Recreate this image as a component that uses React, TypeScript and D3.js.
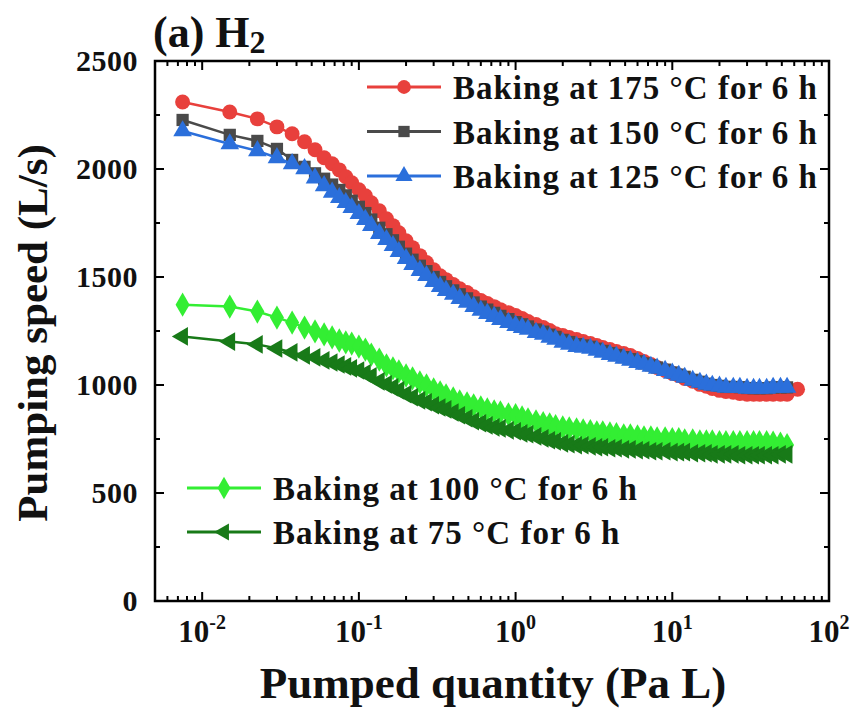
import React from "react";
import * as d3 from "d3";

// pumped quantity (Pa L), shared sampling grid
const quantity = [
  0.0075, 0.015, 0.0225, 0.03, 0.0375, 0.045, 0.0525, 0.06, 0.0675, 0.075, 0.0825, 0.09,
  0.1, 0.11, 0.12, 0.135, 0.15, 0.165, 0.18, 0.2, 0.22, 0.245, 0.27, 0.3, 0.33, 0.36, 0.4, 0.44, 0.49, 0.54, 0.6, 0.66, 0.73, 0.8, 0.9,
  1.0, 1.1, 1.2, 1.35, 1.5, 1.65, 1.8, 2.0, 2.2, 2.45, 2.7, 3.0, 3.3, 3.6, 4.0, 4.4, 4.9, 5.4, 6.0, 6.6, 7.3, 8.0, 9.0,
  10, 11, 12, 13.5, 15, 16.5, 18, 20, 22, 24.5, 27, 30, 33, 36, 40, 44, 49, 54,
  63,
];

// pumping speed (L/s)
const speed175 = [
  2310, 2264, 2232, 2195, 2163, 2126, 2089, 2052, 2024, 1996, 1964, 1936,
  1904, 1876, 1844, 1807, 1770, 1738, 1705, 1668, 1636, 1599, 1567, 1534, 1506, 1488, 1465, 1446, 1428, 1409, 1391, 1377, 1363, 1349, 1335,
  1322, 1308, 1294, 1280, 1266, 1252, 1238, 1229, 1220, 1211, 1201, 1192, 1183, 1174, 1164, 1155, 1146, 1137, 1123, 1109, 1095, 1081, 1067,
  1054, 1044, 1030, 1017, 1003, 994, 984, 975, 970, 966, 961, 957, 957, 957, 957, 957, 957, 957,
  980,
];
const speed150 = [
  2227, 2158, 2130, 2093, 2042, 2010, 1980, 1955, 1928, 1903, 1878, 1853,
  1825, 1796, 1766, 1728, 1698, 1670, 1640, 1608, 1580, 1552, 1527, 1500, 1477, 1457, 1438, 1420, 1401, 1382, 1363, 1349, 1334, 1320, 1305,
  1291, 1281, 1271, 1257, 1247, 1233, 1223, 1209, 1199, 1189, 1183, 1177, 1168, 1158, 1148, 1139, 1129, 1120, 1110, 1100, 1091, 1081, 1071,
  1058, 1048, 1038, 1024, 1015, 1006, 1000, 996, 991, 991, 990, 986, 985, 985, 985, 989, 989, 989,
];
const speed125 = [
  2176, 2116, 2084, 2052, 2024, 2001, 1958, 1922, 1892, 1867, 1844, 1821,
  1793, 1766, 1738, 1701, 1673, 1645, 1617, 1585, 1557, 1530, 1506, 1479, 1456, 1437, 1419, 1400, 1382, 1363, 1345, 1331, 1317, 1303, 1289,
  1275, 1266, 1257, 1243, 1234, 1220, 1211, 1197, 1188, 1178, 1174, 1169, 1160, 1151, 1141, 1132, 1123, 1114, 1104, 1095, 1086, 1077, 1067,
  1054, 1044, 1035, 1021, 1012, 1003, 998, 994, 989, 989, 989, 984, 984, 984, 984, 989, 989, 989,
];
const speed100 = [
  1372, 1363, 1340, 1312, 1289, 1266, 1248, 1234, 1220, 1206, 1197, 1192,
  1178, 1164, 1141, 1118, 1091, 1077, 1063, 1044, 1031, 1012, 998, 980, 966, 952, 938, 924, 915, 906, 896, 887, 878, 873, 864,
  860, 850, 841, 832, 823, 818, 809, 804, 799, 795, 790, 786, 781, 781, 776, 772, 767, 767, 762, 758, 758, 753, 753,
  749, 749, 744, 744, 739, 739, 739, 735, 735, 735, 735, 735, 735, 735, 735, 733, 728, 722,
];
const speed75 = [
  1225, 1201, 1188, 1169, 1151, 1137, 1128, 1114, 1104, 1095, 1086, 1077,
  1067, 1054, 1040, 1017, 1003, 989, 975, 957, 943, 929, 920, 906, 896, 887, 873, 860, 846, 832, 823, 813, 804, 799, 790,
  786, 776, 772, 762, 753, 744, 739, 730, 726, 721, 721, 716, 712, 712, 707, 707, 702, 702, 698, 698, 693, 693, 693,
  689, 689, 689, 684, 684, 684, 679, 679, 679, 679, 675, 675, 675, 675, 675, 675, 679, 679,
];

const labels = [
  "Baking at 175 °C for 6 h",
  "Baking at 150 °C for 6 h",
  "Baking at 125 °C for 6 h",
  "Baking at 100 °C for 6 h",
  "Baking at 75 °C for 6 h",
];
const colors = ["#e8403c", "#4a4a4a", "#2b6fdb", "#33ee33", "#187a18"];
const yTickValues = [0, 500, 1000, 1500, 2000, 2500];
const xTickExps = [-2, -1, 0, 1, 2];

const FONT = '"Liberation Serif", "Times New Roman", serif';
const W = 854, H = 714;
const L = 155, R = 829, T = 61, B = 601;

export default function App() {
  const x = d3.scaleLog().domain([0.005, 100]).range([L, R]);
  const y = d3.scaleLinear().domain([0, 2500]).range([B, T]);

  const symbols = [
    { type: d3.symbolCircle, size: 175, rot: 0 },
    { type: d3.symbolSquare, size: 150, rot: 0 },
    { type: d3.symbolTriangle, size: 150, rot: 0 },
    { type: d3.symbolDiamond, size: 170, rot: 0 },
    { type: d3.symbolTriangle, size: 150, rot: -90 },
  ];
  const allSpeeds = [speed175, speed150, speed125, speed100, speed75];
  const series = allSpeeds.map((vals, i) => ({
    label: labels[i],
    color: colors[i],
    sym: symbols[i],
    points: vals.map((v, j) => [quantity[j], v] as [number, number]),
  }));

  const line = d3.line<[number, number]>().x((d) => x(d[0])).y((d) => y(d[1]));
  const symPath = (s: any, scale = 1) => d3.symbol().type(s.type).size(s.size * scale)() as string;

  const xTicks = x.ticks().filter((v) => v > 0.005 + 1e-9);
  const isMajorX = (v: number) => Math.abs(Math.log10(v) - Math.round(Math.log10(v))) < 1e-6;
  const yTicks = d3.range(0, 2501, 250);

  const legendTop = [0, 1, 2];
  const legendBottom = [3, 4];

  const LegendItem = ({ idx, lx, ly }: { idx: number; lx: number; ly: number }) => {
    const s = series[idx];
    return (
      <g>
        <line x1={lx} x2={lx + 74} y1={ly} y2={ly} stroke={s.color} strokeWidth={3} />
        <path d={symPath(s.sym, 0.85)} fill={s.color} transform={`translate(${lx + 37},${ly}) rotate(${s.sym.rot})`} />
        <text x={lx + 86} y={ly + 12} fontSize={33} fontWeight="bold" letterSpacing={1} fontFamily={FONT} fill="#111">
          {s.label}
        </text>
      </g>
    );
  };

  return (
    <svg width={W} height={H} style={{ position: "absolute", left: 0, top: 0, background: "#fff" }} fontFamily={FONT}>
      <rect x={0} y={0} width={W} height={H} fill="#fff" />

      {/* data: red, gray, blue, light green, dark green */}
      {series.map((s, i) => (
        <g key={i}>
          <path d={line(s.points) as string} fill="none" stroke={s.color} strokeWidth={2.5} />
          {s.points.map((p, j) => (
            <path
              key={j}
              d={symPath(s.sym)}
              fill={s.color}
              transform={`translate(${x(p[0])},${y(p[1])}) rotate(${s.sym.rot})`}
            />
          ))}
        </g>
      ))}

      {/* ticks, all pointing inward */}
      {xTicks.map((v, i) => {
        const len = isMajorX(v) ? 9 : 5;
        const px = x(v);
        return (
          <g key={"xt" + i} stroke="#000" strokeWidth={2}>
            <line x1={px} x2={px} y1={B} y2={B - len} />
            <line x1={px} x2={px} y1={T} y2={T + len} />
          </g>
        );
      })}
      {yTicks.map((v, i) => {
        const len = v % 500 === 0 ? 9 : 5;
        const py = y(v);
        return (
          <g key={"yt" + i} stroke="#000" strokeWidth={2}>
            <line x1={L} x2={L + len} y1={py} y2={py} />
            <line x1={R} x2={R - len} y1={py} y2={py} />
          </g>
        );
      })}

      <rect x={L} y={T} width={R - L} height={B - T} fill="none" stroke="#000" strokeWidth={2.5} />

      {/* tick labels */}
      {yTickValues.map((v) => (
        <text key={"yl" + v} x={L - 17} y={y(v) + 10} textAnchor="end" fontSize={30} fontWeight="bold" letterSpacing={0.5} fill="#111">
          {v}
        </text>
      ))}
      {xTickExps.map((e) => (
        <text key={"xl" + e} x={x(Math.pow(10, e))} y={642} textAnchor="middle" fontSize={31} fontWeight="bold" fill="#111">
          10
          <tspan fontSize={20} dy={-13}>
            {e}
          </tspan>
        </text>
      ))}

      {/* axis titles */}
      <text x={493} y={698} textAnchor="middle" fontSize={45} fontWeight="bold" fill="#111">
        Pumped quantity (Pa L)
      </text>
      <text transform="translate(47,333) rotate(-90)" textAnchor="middle" fontSize={43} fontWeight="bold" fill="#111">
        Pumping speed (L/s)
      </text>

      {/* panel title */}
      <text x={153} y={47} fontSize={44} fontWeight="bold" fill="#111">
        (a) H
        <tspan fontSize={32} dy={6}>
          2
        </tspan>
      </text>

      {/* legends */}
      {legendTop.map((idx, k) => (
        <LegendItem key={"lt" + idx} idx={idx} lx={367} ly={87 + k * 44.5} />
      ))}
      {legendBottom.map((idx, k) => (
        <LegendItem key={"lb" + idx} idx={idx} lx={187} ly={488 + k * 44} />
      ))}
    </svg>
  );
}
